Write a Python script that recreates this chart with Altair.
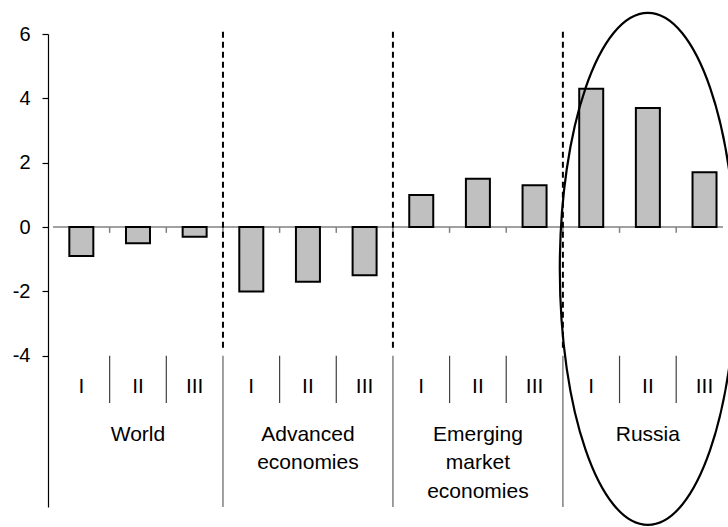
import altair as alt
import pandas as pd

groups = ["World", "Advanced economies", "Emerging market economies", "Russia"]
group_lines = [["World"], ["Advanced", "economies"], ["Emerging", "market", "economies"], ["Russia"]]
periods = ["I", "II", "III"]
values = [-0.9, -0.5, -0.3, -2.0, -1.7, -1.5, 1.0, 1.5, 1.3, 4.3, 3.7, 1.7]
y_ticks = [-4, -2, 0, 2, 4, 6]

FONT = "Liberation Sans"
n = len(groups) * len(periods)
SLOT = 57.5
W = 680

rows = []
for gi, g in enumerate(groups):
    for pi, p in enumerate(periods):
        k = gi * len(periods) + pi
        rows.append({"group": g, "period": p, "xc": k + 0.5, "value": values[k]})
bars_df = pd.DataFrame(rows)

x_scale = alt.Scale(domain=[0, W / SLOT], nice=False, zero=False)
y_scale = alt.Scale(domain=[-8.7, 6], nice=False, zero=False)

X = lambda f: alt.X(f, type="quantitative", scale=x_scale, axis=None)
Y = lambda f: alt.Y(f, type="quantitative", scale=y_scale,
                    axis=alt.Axis(values=y_ticks, title=None, grid=False,
                                  domainColor="black", tickColor="black",
                                  tickSize=6, labelPadding=12, labelFont=FONT,
                                  labelFontSize=20, labelColor="black",
                                  labelExpr="datum.value + ''",
                                  domainWidth=1.2, tickWidth=1.2))

# zero line
zero_df = pd.DataFrame({"x": [0], "x2": [W / SLOT], "y": [0]})
zero = alt.Chart(zero_df).mark_rule(color="#808080", strokeWidth=1.5).encode(
    x=X("x"), x2="x2", y=Y("y"))

# small ticks under zero line at slot boundaries
ztick_df = pd.DataFrame({"x": list(range(1, n)), "y": 0, "y2": -0.18})
zticks = alt.Chart(ztick_df).mark_rule(color="#808080", strokeWidth=1.5).encode(
    x=X("x"), y=Y("y"), y2="y2")

bars = alt.Chart(bars_df).mark_bar(size=24, fill="#c0c0c0", stroke="black",
                                   strokeWidth=2).encode(
    x=X("xc"), y=Y("value"), y2=alt.datum(0))

# dashed separators between groups
bounds = [len(periods) * i for i in range(1, len(groups))]
dash_df = pd.DataFrame({"x": bounds, "y": 6.07, "y2": -3.83})
dashes = alt.Chart(dash_df).mark_rule(color="black", strokeWidth=2,
                                      strokeDash=[6, 4]).encode(
    x=X("x"), y=Y("y"), y2="y2")

# category axis separators below the plot
gsep_df = pd.DataFrame({"x": bounds, "y": -4.0, "y2": -8.7})
gsep = alt.Chart(gsep_df).mark_rule(color="#808080", strokeWidth=1.5).encode(
    x=X("x"), y=Y("y"), y2="y2")
sub = [i for i in range(1, n) if i % len(periods) != 0]
ssep_df = pd.DataFrame({"x": sub, "y": -4.0, "y2": -5.47})
ssep = alt.Chart(ssep_df).mark_rule(color="#404040", strokeWidth=1.2).encode(
    x=X("x"), y=Y("y"), y2="y2")

plab = alt.Chart(bars_df.assign(y=-4.97)).mark_text(
    font=FONT, fontSize=21, color="black", baseline="middle", align="center").encode(
    x=X("xc"), y=Y("y"), text="period")

glab_rows = []
for gi, lines in enumerate(group_lines):
    for li, t in enumerate(lines):
        glab_rows.append({"x": gi * len(periods) + 1.5, "y": -6.45 - 0.885 * li, "t": t})
glab = alt.Chart(pd.DataFrame(glab_rows)).mark_text(
    font=FONT, fontSize=21, color="black", baseline="middle", align="center").encode(
    x=X("x"), y=Y("y"), text="t")

# ellipse around Russia
ell_df = pd.DataFrame({"x": [10.5], "y": [-1.3]})
ellipse = alt.Chart(ell_df).mark_point(
    shape="M 0 -1 A 0.344 1 0 1 1 0 1 A 0.344 1 0 1 1 0 -1 Z",
    size=512 * 512, filled=False, stroke="black", strokeWidth=2.2, opacity=1).encode(
    x=X("x"), y=Y("y"))

chart = alt.layer(zero, zticks, bars, dashes, gsep, ssep, plab, glab, ellipse).properties(
    width=W, height=473,
    autosize=alt.AutoSizeParams(type="none"),
    padding={"left": 48, "top": 34, "right": 0, "bottom": 20},
    background="white",
).configure_view(stroke=None)

chart.save("out.html", embed_options={"renderer": "svg", "actions": False})
